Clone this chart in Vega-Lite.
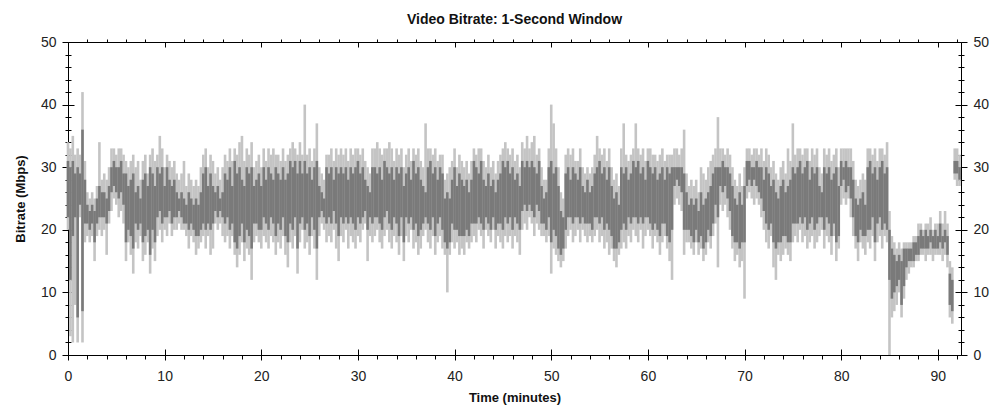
{
"$schema":"https://vega.github.io/schema/vega-lite/v6.json",
"width":893,"height":313,
"autosize":{"type":"none"},
"padding":{"left":68,"top":42,"right":43,"bottom":65},
"background":"white",
"config":{"view":{"stroke":null},"font":"Liberation Sans","axis":{"domainColor":"#000","tickColor":"#000","labelColor":"#222","labelFont":"Liberation Sans","labelFontSize":14,"titleFont":"Liberation Sans","titleFontSize":13,"titleFontWeight":"bold","titleColor":"#111","grid":false,"domainWidth":1,"tickWidth":1,"labelFlush":false,"labelOverlap":false}},
"title":{"text":"Video Bitrate: 1-Second Window","fontSize":14,"fontWeight":"bold","font":"Liberation Sans","color":"#111","anchor":"middle","offset":8},
"datasets":{
"d":[
{"t":0,"n":20,"l":22,"h":31,"m":34},{"t":0.25,"n":3,"l":12,"h":30,"m":33},{"t":0.5,"n":2,"l":19,"h":31,"m":35},{"t":0.75,"n":8,"l":22,"h":29,"m":32},
{"t":1,"n":2,"l":6,"h":30,"m":33},{"t":1.25,"n":22,"l":24,"h":29,"m":32},{"t":1.5,"n":2,"l":7,"h":36,"m":42},{"t":1.75,"n":18,"l":21,"h":28,"m":31},
{"t":2,"n":19,"l":21,"h":24,"m":26},{"t":2.25,"n":18,"l":20,"h":23,"m":25},{"t":2.5,"n":19,"l":21,"h":24,"m":26},{"t":2.75,"n":15,"l":18,"h":23,"m":25},
{"t":3,"n":19,"l":21,"h":25,"m":27},{"t":3.25,"n":20,"l":22,"h":27,"m":34},{"t":3.5,"n":19,"l":22,"h":26,"m":28},{"t":3.75,"n":20,"l":22,"h":26,"m":29},
{"t":4,"n":16,"l":21,"h":25,"m":28},{"t":4.25,"n":21,"l":23,"h":27,"m":30},{"t":4.5,"n":23,"l":26,"h":30,"m":33},{"t":4.75,"n":25,"l":27,"h":31,"m":33},
{"t":5,"n":24,"l":26,"h":30,"m":32},{"t":5.25,"n":22,"l":25,"h":30,"m":33},{"t":5.5,"n":23,"l":26,"h":31,"m":33},{"t":5.75,"n":21,"l":24,"h":29,"m":32},
{"t":6,"n":15,"l":18,"h":29,"m":31},{"t":6.25,"n":18,"l":20,"h":27,"m":30},{"t":6.5,"n":16,"l":19,"h":28,"m":31},{"t":6.75,"n":13,"l":17,"h":29,"m":32},
{"t":7,"n":18,"l":21,"h":26,"m":30},{"t":7.25,"n":17,"l":20,"h":27,"m":31},{"t":7.5,"n":19,"l":21,"h":25,"m":28},{"t":7.75,"n":15,"l":18,"h":28,"m":31},
{"t":8,"n":16,"l":19,"h":29,"m":32},{"t":8.25,"n":18,"l":20,"h":27,"m":29},{"t":8.5,"n":13,"l":16,"h":30,"m":32},{"t":8.75,"n":17,"l":20,"h":29,"m":33},
{"t":9,"n":15,"l":18,"h":27,"m":31},{"t":9.25,"n":19,"l":22,"h":30,"m":32},{"t":9.5,"n":20,"l":23,"h":29,"m":35},{"t":9.75,"n":18,"l":21,"h":30,"m":33},
{"t":10,"n":20,"l":22,"h":27,"m":30},{"t":10.25,"n":19,"l":22,"h":30,"m":32},{"t":10.5,"n":21,"l":23,"h":28,"m":31},{"t":10.75,"n":19,"l":21,"h":27,"m":30},
{"t":11,"n":20,"l":22,"h":28,"m":31},{"t":11.25,"n":20,"l":22,"h":26,"m":29},{"t":11.5,"n":21,"l":23,"h":25,"m":28},{"t":11.75,"n":20,"l":22,"h":26,"m":29},
{"t":12,"n":20,"l":21,"h":25,"m":31},{"t":12.25,"n":19,"l":21,"h":24,"m":27},{"t":12.5,"n":17,"l":20,"h":26,"m":29},{"t":12.75,"n":19,"l":21,"h":25,"m":28},
{"t":13,"n":18,"l":20,"h":24,"m":27},{"t":13.25,"n":16,"l":19,"h":25,"m":28},{"t":13.5,"n":17,"l":19,"h":24,"m":27},{"t":13.75,"n":18,"l":20,"h":26,"m":30},
{"t":14,"n":19,"l":21,"h":29,"m":32},{"t":14.25,"n":17,"l":20,"h":30,"m":33},{"t":14.5,"n":19,"l":21,"h":27,"m":30},{"t":14.75,"n":16,"l":20,"h":29,"m":32},
{"t":15,"n":17,"l":21,"h":27,"m":31},{"t":15.25,"n":21,"l":23,"h":26,"m":29},{"t":15.5,"n":20,"l":22,"h":27,"m":30},{"t":15.75,"n":21,"l":23,"h":25,"m":28},
{"t":16,"n":19,"l":22,"h":26,"m":30},{"t":16.25,"n":18,"l":21,"h":29,"m":32},{"t":16.5,"n":19,"l":22,"h":28,"m":31},{"t":16.75,"n":17,"l":20,"h":30,"m":33},
{"t":17,"n":19,"l":21,"h":27,"m":31},{"t":17.25,"n":16,"l":18,"h":31,"m":33},{"t":17.5,"n":14,"l":17,"h":29,"m":32},{"t":17.75,"n":16,"l":19,"h":30,"m":34},
{"t":18,"n":18,"l":21,"h":28,"m":35},{"t":18.25,"n":15,"l":18,"h":27,"m":31},{"t":18.5,"n":17,"l":20,"h":30,"m":33},{"t":18.75,"n":16,"l":19,"h":29,"m":32},
{"t":19,"n":12,"l":17,"h":30,"m":34},{"t":19.25,"n":18,"l":21,"h":27,"m":30},{"t":19.5,"n":19,"l":21,"h":28,"m":31},{"t":19.75,"n":18,"l":20,"h":29,"m":32},
{"t":20,"n":17,"l":20,"h":27,"m":30},{"t":20.25,"n":19,"l":22,"h":30,"m":33},{"t":20.5,"n":18,"l":21,"h":28,"m":31},{"t":20.75,"n":17,"l":20,"h":30,"m":33},
{"t":21,"n":19,"l":22,"h":29,"m":32},{"t":21.25,"n":18,"l":21,"h":28,"m":33},{"t":21.5,"n":16,"l":19,"h":30,"m":32},{"t":21.75,"n":18,"l":21,"h":29,"m":32},
{"t":22,"n":17,"l":20,"h":28,"m":31},{"t":22.25,"n":19,"l":22,"h":30,"m":33},{"t":22.5,"n":16,"l":19,"h":28,"m":31},{"t":22.75,"n":14,"l":18,"h":29,"m":32},
{"t":23,"n":18,"l":21,"h":31,"m":33},{"t":23.25,"n":17,"l":20,"h":30,"m":34},{"t":23.5,"n":19,"l":22,"h":31,"m":33},{"t":23.75,"n":13,"l":17,"h":29,"m":32},
{"t":24,"n":18,"l":21,"h":31,"m":34},{"t":24.25,"n":20,"l":22,"h":29,"m":32},{"t":24.5,"n":17,"l":20,"h":31,"m":40},{"t":24.75,"n":18,"l":21,"h":29,"m":32},
{"t":25,"n":16,"l":19,"h":30,"m":33},{"t":25.25,"n":19,"l":22,"h":28,"m":31},{"t":25.5,"n":17,"l":20,"h":30,"m":33},{"t":25.75,"n":12,"l":17,"h":31,"m":37},
{"t":26,"n":19,"l":22,"h":27,"m":30},{"t":26.25,"n":21,"l":23,"h":26,"m":29},{"t":26.5,"n":20,"l":22,"h":25,"m":28},{"t":26.75,"n":18,"l":21,"h":30,"m":32},
{"t":27,"n":19,"l":22,"h":29,"m":32},{"t":27.25,"n":18,"l":21,"h":30,"m":33},{"t":27.5,"n":20,"l":23,"h":28,"m":31},{"t":27.75,"n":17,"l":21,"h":30,"m":33},
{"t":28,"n":15,"l":19,"h":29,"m":32},{"t":28.25,"n":19,"l":22,"h":30,"m":33},{"t":28.5,"n":18,"l":21,"h":29,"m":32},{"t":28.75,"n":20,"l":22,"h":30,"m":33},
{"t":29,"n":17,"l":21,"h":28,"m":31},{"t":29.25,"n":19,"l":22,"h":30,"m":33},{"t":29.5,"n":18,"l":21,"h":29,"m":32},{"t":29.75,"n":17,"l":20,"h":30,"m":33},
{"t":30,"n":19,"l":22,"h":31,"m":33},{"t":30.25,"n":18,"l":21,"h":29,"m":32},{"t":30.5,"n":20,"l":22,"h":30,"m":33},{"t":30.75,"n":21,"l":23,"h":28,"m":31},
{"t":31,"n":15,"l":20,"h":27,"m":30},{"t":31.25,"n":19,"l":22,"h":26,"m":29},{"t":31.5,"n":18,"l":21,"h":30,"m":33},{"t":31.75,"n":19,"l":22,"h":30,"m":33},
{"t":32,"n":20,"l":22,"h":29,"m":34},{"t":32.25,"n":18,"l":21,"h":30,"m":33},{"t":32.5,"n":17,"l":20,"h":28,"m":32},{"t":32.75,"n":19,"l":22,"h":31,"m":33},
{"t":33,"n":20,"l":23,"h":30,"m":33},{"t":33.25,"n":18,"l":21,"h":29,"m":34},{"t":33.5,"n":17,"l":20,"h":30,"m":33},{"t":33.75,"n":19,"l":22,"h":28,"m":31},
{"t":34,"n":18,"l":21,"h":30,"m":33},{"t":34.25,"n":16,"l":19,"h":29,"m":32},{"t":34.5,"n":19,"l":22,"h":30,"m":33},{"t":34.75,"n":15,"l":18,"h":27,"m":30},
{"t":35,"n":19,"l":22,"h":29,"m":32},{"t":35.25,"n":18,"l":21,"h":30,"m":33},{"t":35.5,"n":20,"l":22,"h":28,"m":31},{"t":35.75,"n":17,"l":20,"h":31,"m":33},
{"t":36,"n":18,"l":21,"h":29,"m":32},{"t":36.25,"n":16,"l":19,"h":30,"m":33},{"t":36.5,"n":17,"l":20,"h":28,"m":31},{"t":36.75,"n":19,"l":21,"h":27,"m":30},
{"t":37,"n":20,"l":22,"h":26,"m":37},{"t":37.25,"n":18,"l":21,"h":30,"m":33},{"t":37.5,"n":17,"l":20,"h":31,"m":33},{"t":37.75,"n":19,"l":22,"h":29,"m":32},
{"t":38,"n":16,"l":19,"h":30,"m":33},{"t":38.25,"n":18,"l":21,"h":28,"m":31},{"t":38.5,"n":19,"l":22,"h":30,"m":32},{"t":38.75,"n":17,"l":20,"h":29,"m":32},
{"t":39,"n":16,"l":18,"h":25,"m":28},{"t":39.25,"n":10,"l":17,"h":26,"m":29},{"t":39.5,"n":16,"l":18,"h":25,"m":30},{"t":39.75,"n":18,"l":21,"h":28,"m":31},
{"t":40,"n":17,"l":20,"h":30,"m":33},{"t":40.25,"n":18,"l":20,"h":27,"m":30},{"t":40.5,"n":16,"l":19,"h":29,"m":32},{"t":40.75,"n":17,"l":19,"h":28,"m":31},
{"t":41,"n":16,"l":19,"h":27,"m":30},{"t":41.25,"n":18,"l":20,"h":28,"m":31},{"t":41.5,"n":17,"l":19,"h":26,"m":29},{"t":41.75,"n":18,"l":21,"h":28,"m":31},
{"t":42,"n":19,"l":21,"h":31,"m":33},{"t":42.25,"n":18,"l":21,"h":30,"m":32},{"t":42.5,"n":20,"l":22,"h":29,"m":33},{"t":42.75,"n":19,"l":21,"h":31,"m":33},
{"t":43,"n":17,"l":20,"h":28,"m":31},{"t":43.25,"n":20,"l":22,"h":27,"m":30},{"t":43.5,"n":19,"l":21,"h":29,"m":32},{"t":43.75,"n":18,"l":20,"h":27,"m":30},
{"t":44,"n":20,"l":22,"h":28,"m":31},{"t":44.25,"n":17,"l":20,"h":26,"m":29},{"t":44.5,"n":19,"l":21,"h":28,"m":31},{"t":44.75,"n":18,"l":21,"h":29,"m":32},
{"t":45,"n":17,"l":20,"h":31,"m":33},{"t":45.25,"n":19,"l":22,"h":30,"m":34},{"t":45.5,"n":18,"l":21,"h":31,"m":33},{"t":45.75,"n":19,"l":22,"h":29,"m":32},
{"t":46,"n":17,"l":20,"h":30,"m":33},{"t":46.25,"n":19,"l":22,"h":28,"m":31},{"t":46.5,"n":18,"l":21,"h":29,"m":32},{"t":46.75,"n":16,"l":20,"h":27,"m":30},
{"t":47,"n":20,"l":23,"h":31,"m":34},{"t":47.25,"n":21,"l":24,"h":30,"m":33},{"t":47.5,"n":20,"l":23,"h":31,"m":35},{"t":47.75,"n":22,"l":24,"h":30,"m":33},
{"t":48,"n":21,"l":23,"h":31,"m":34},{"t":48.25,"n":19,"l":22,"h":30,"m":35},{"t":48.5,"n":21,"l":24,"h":29,"m":32},{"t":48.75,"n":20,"l":23,"h":31,"m":33},
{"t":49,"n":19,"l":21,"h":27,"m":30},{"t":49.25,"n":19,"l":21,"h":25,"m":28},{"t":49.5,"n":18,"l":20,"h":26,"m":28},{"t":49.75,"n":19,"l":22,"h":30,"m":33},
{"t":50,"n":13,"l":18,"h":31,"m":40},{"t":50.25,"n":17,"l":20,"h":29,"m":37},{"t":50.5,"n":16,"l":19,"h":30,"m":33},{"t":50.75,"n":15,"l":17,"h":27,"m":30},
{"t":51,"n":14,"l":16,"h":23,"m":26},{"t":51.25,"n":15,"l":17,"h":22,"m":25},{"t":51.5,"n":17,"l":20,"h":29,"m":32},{"t":51.75,"n":19,"l":22,"h":30,"m":33},
{"t":52,"n":20,"l":22,"h":28,"m":32},{"t":52.25,"n":18,"l":21,"h":30,"m":33},{"t":52.5,"n":19,"l":22,"h":29,"m":31},{"t":52.75,"n":20,"l":22,"h":28,"m":31},
{"t":53,"n":18,"l":21,"h":30,"m":33},{"t":53.25,"n":20,"l":22,"h":27,"m":30},{"t":53.5,"n":19,"l":21,"h":26,"m":29},{"t":53.75,"n":18,"l":21,"h":28,"m":30},
{"t":54,"n":19,"l":21,"h":26,"m":29},{"t":54.25,"n":18,"l":20,"h":27,"m":30},{"t":54.5,"n":19,"l":22,"h":29,"m":32},{"t":54.75,"n":20,"l":22,"h":30,"m":35},
{"t":55,"n":18,"l":21,"h":31,"m":33},{"t":55.25,"n":19,"l":22,"h":29,"m":32},{"t":55.5,"n":17,"l":20,"h":30,"m":33},{"t":55.75,"n":18,"l":21,"h":28,"m":31},
{"t":56,"n":16,"l":20,"h":30,"m":33},{"t":56.25,"n":17,"l":19,"h":27,"m":30},{"t":56.5,"n":15,"l":17,"h":25,"m":28},{"t":56.75,"n":14,"l":17,"h":26,"m":29},
{"t":57,"n":16,"l":18,"h":24,"m":27},{"t":57.25,"n":17,"l":20,"h":30,"m":33},{"t":57.5,"n":18,"l":21,"h":29,"m":37},{"t":57.75,"n":17,"l":20,"h":30,"m":32},
{"t":58,"n":19,"l":22,"h":28,"m":31},{"t":58.25,"n":18,"l":21,"h":29,"m":32},{"t":58.5,"n":20,"l":22,"h":31,"m":33},{"t":58.75,"n":19,"l":22,"h":30,"m":37},
{"t":59,"n":18,"l":21,"h":31,"m":33},{"t":59.25,"n":20,"l":22,"h":29,"m":32},{"t":59.5,"n":17,"l":21,"h":30,"m":33},{"t":59.75,"n":19,"l":22,"h":28,"m":31},
{"t":60,"n":20,"l":22,"h":31,"m":33},{"t":60.25,"n":19,"l":21,"h":30,"m":33},{"t":60.5,"n":17,"l":20,"h":29,"m":32},{"t":60.75,"n":19,"l":21,"h":30,"m":32},
{"t":61,"n":18,"l":20,"h":28,"m":31},{"t":61.25,"n":16,"l":19,"h":29,"m":32},{"t":61.5,"n":18,"l":21,"h":30,"m":33},{"t":61.75,"n":19,"l":21,"h":28,"m":31},
{"t":62,"n":17,"l":19,"h":30,"m":32},{"t":62.25,"n":15,"l":18,"h":29,"m":32},{"t":62.5,"n":12,"l":20,"h":30,"m":32},{"t":62.75,"n":24,"l":27,"h":30,"m":33},
{"t":63,"n":25,"l":28,"h":30,"m":33},{"t":63.25,"n":24,"l":27,"h":30,"m":32},{"t":63.5,"n":23,"l":26,"h":30,"m":33},{"t":63.75,"n":16,"l":20,"h":29,"m":36},
{"t":64,"n":18,"l":20,"h":26,"m":29},{"t":64.25,"n":18,"l":20,"h":24,"m":27},{"t":64.5,"n":17,"l":19,"h":25,"m":28},{"t":64.75,"n":16,"l":18,"h":24,"m":27},
{"t":65,"n":18,"l":20,"h":25,"m":28},{"t":65.25,"n":16,"l":18,"h":23,"m":26},{"t":65.5,"n":17,"l":19,"h":26,"m":30},{"t":65.75,"n":15,"l":17,"h":24,"m":29},
{"t":66,"n":16,"l":18,"h":25,"m":28},{"t":66.25,"n":18,"l":20,"h":26,"m":30},{"t":66.5,"n":17,"l":19,"h":27,"m":31},{"t":66.75,"n":19,"l":21,"h":29,"m":32},
{"t":67,"n":21,"l":24,"h":30,"m":33},{"t":67.25,"n":14,"l":22,"h":30,"m":38},{"t":67.5,"n":24,"l":27,"h":30,"m":33},{"t":67.75,"n":23,"l":26,"h":31,"m":33},
{"t":68,"n":24,"l":27,"h":30,"m":32},{"t":68.25,"n":22,"l":25,"h":30,"m":33},{"t":68.5,"n":20,"l":23,"h":29,"m":32},{"t":68.75,"n":17,"l":19,"h":27,"m":30},
{"t":69,"n":15,"l":18,"h":25,"m":28},{"t":69.25,"n":16,"l":18,"h":24,"m":27},{"t":69.5,"n":14,"l":17,"h":26,"m":29},{"t":69.75,"n":15,"l":18,"h":24,"m":27},
{"t":70,"n":9,"l":18,"h":27,"m":30},{"t":70.25,"n":25,"l":27,"h":31,"m":33},{"t":70.5,"n":26,"l":28,"h":31,"m":33},{"t":70.75,"n":25,"l":27,"h":30,"m":32},
{"t":71,"n":24,"l":28,"h":30,"m":33},{"t":71.25,"n":25,"l":27,"h":31,"m":33},{"t":71.5,"n":24,"l":26,"h":30,"m":32},{"t":71.75,"n":22,"l":25,"h":30,"m":33},
{"t":72,"n":20,"l":23,"h":28,"m":31},{"t":72.25,"n":18,"l":21,"h":30,"m":33},{"t":72.5,"n":17,"l":20,"h":29,"m":32},{"t":72.75,"n":19,"l":21,"h":27,"m":30},
{"t":73,"n":14,"l":18,"h":28,"m":31},{"t":73.25,"n":12,"l":17,"h":26,"m":29},{"t":73.5,"n":16,"l":18,"h":25,"m":28},{"t":73.75,"n":15,"l":18,"h":27,"m":30},
{"t":74,"n":16,"l":19,"h":28,"m":31},{"t":74.25,"n":17,"l":19,"h":26,"m":29},{"t":74.5,"n":16,"l":18,"h":27,"m":33},{"t":74.75,"n":15,"l":18,"h":28,"m":31},
{"t":75,"n":18,"l":21,"h":30,"m":37},{"t":75.25,"n":19,"l":21,"h":29,"m":32},{"t":75.5,"n":18,"l":21,"h":30,"m":33},{"t":75.75,"n":20,"l":22,"h":31,"m":33},
{"t":76,"n":18,"l":21,"h":29,"m":32},{"t":76.25,"n":19,"l":22,"h":30,"m":33},{"t":76.5,"n":17,"l":20,"h":31,"m":33},{"t":76.75,"n":18,"l":21,"h":28,"m":31},
{"t":77,"n":19,"l":22,"h":30,"m":33},{"t":77.25,"n":17,"l":20,"h":29,"m":32},{"t":77.5,"n":18,"l":21,"h":30,"m":33},{"t":77.75,"n":19,"l":22,"h":27,"m":30},
{"t":78,"n":20,"l":22,"h":26,"m":29},{"t":78.25,"n":17,"l":20,"h":30,"m":33},{"t":78.5,"n":19,"l":22,"h":29,"m":32},{"t":78.75,"n":18,"l":21,"h":30,"m":33},
{"t":79,"n":16,"l":19,"h":28,"m":31},{"t":79.25,"n":19,"l":21,"h":29,"m":32},{"t":79.5,"n":15,"l":18,"h":30,"m":33},{"t":79.75,"n":17,"l":19,"h":27,"m":30},
{"t":80,"n":24,"l":27,"h":31,"m":33},{"t":80.25,"n":25,"l":28,"h":30,"m":33},{"t":80.5,"n":24,"l":26,"h":31,"m":33},{"t":80.75,"n":25,"l":27,"h":30,"m":33},
{"t":81,"n":22,"l":25,"h":30,"m":33},{"t":81.25,"n":19,"l":22,"h":28,"m":31},{"t":81.5,"n":17,"l":19,"h":25,"m":28},{"t":81.75,"n":15,"l":18,"h":24,"m":27},
{"t":82,"n":18,"l":20,"h":25,"m":28},{"t":82.25,"n":17,"l":19,"h":26,"m":29},{"t":82.5,"n":16,"l":19,"h":24,"m":28},{"t":82.75,"n":18,"l":20,"h":30,"m":33},
{"t":83,"n":17,"l":20,"h":31,"m":33},{"t":83.25,"n":19,"l":22,"h":29,"m":32},{"t":83.5,"n":15,"l":18,"h":30,"m":33},{"t":83.75,"n":18,"l":21,"h":28,"m":31},
{"t":84,"n":19,"l":22,"h":30,"m":33},{"t":84.25,"n":17,"l":20,"h":31,"m":33},{"t":84.5,"n":19,"l":21,"h":29,"m":32},{"t":84.75,"n":18,"l":20,"h":30,"m":34},
{"t":85,"n":0,"l":12,"h":20,"m":23},{"t":85.25,"n":6,"l":9,"h":17,"m":19},{"t":85.5,"n":7,"l":10,"h":16,"m":18},{"t":85.75,"n":8,"l":11,"h":15,"m":17},
{"t":86,"n":10,"l":12,"h":16,"m":18},{"t":86.25,"n":6,"l":8,"h":15,"m":17},{"t":86.5,"n":9,"l":11,"h":17,"m":18},{"t":86.75,"n":12,"l":14,"h":17,"m":18},
{"t":87,"n":13,"l":15,"h":17,"m":18},{"t":87.25,"n":14,"l":15,"h":17,"m":18},{"t":87.5,"n":14,"l":15,"h":18,"m":19},{"t":87.75,"n":15,"l":16,"h":18,"m":19},
{"t":88,"n":15,"l":16,"h":19,"m":21},{"t":88.25,"n":16,"l":17,"h":20,"m":21},{"t":88.5,"n":16,"l":17,"h":19,"m":20},{"t":88.75,"n":15,"l":17,"h":20,"m":21},
{"t":89,"n":16,"l":17,"h":19,"m":21},{"t":89.25,"n":16,"l":18,"h":20,"m":22},{"t":89.5,"n":15,"l":17,"h":19,"m":20},{"t":89.75,"n":16,"l":17,"h":20,"m":21},
{"t":90,"n":16,"l":17,"h":19,"m":21},{"t":90.25,"n":16,"l":18,"h":21,"m":23},{"t":90.5,"n":15,"l":17,"h":19,"m":21},{"t":90.75,"n":16,"l":18,"h":20,"m":23},
{"t":91,"n":14,"l":16,"h":19,"m":21},{"t":91.25,"n":6,"l":8,"h":13,"m":15},{"t":91.5,"n":5,"l":7,"h":12,"m":14},{"t":91.75,"n":28,"l":29,"h":31,"m":33},
{"t":92,"n":27,"l":29,"h":31,"m":33},{"t":92.25,"n":27,"l":28,"h":30,"m":32}
],
"z":[{"t":0,"n":0}]
},
"layer":[
{"data":{"name":"d"},"mark":{"type":"rule","color":"#c4c4c4","strokeWidth":2.6},
 "encoding":{
  "x":{"field":"t","type":"quantitative","scale":{"domain":[0,92.4],"nice":false,"zero":false},"axis":{"orient":"bottom","title":"Time (minutes)","values":[0,10,20,30,40,50,60,70,80,90],"tickSize":5,"labelPadding":9,"titlePadding":8}},
  "y":{"field":"n","type":"quantitative","scale":{"domain":[0,50],"nice":false},"axis":{"orient":"left","title":"Bitrate (Mbps)","values":[0,10,20,30,40,50],"tickSize":6,"labelPadding":6,"titlePadding":13}},
  "y2":{"field":"m"}}},
{"data":{"name":"d"},"mark":{"type":"rule","color":"#7a7a7a","strokeWidth":2.6},
 "encoding":{
  "x":{"field":"t","type":"quantitative","scale":{"domain":[0,92.4],"nice":false,"zero":false},"axis":{"orient":"top","title":null,"labels":false,"values":[0,10,20,30,40,50,60,70,80,90],"tickSize":-5}},
  "y":{"field":"l","type":"quantitative","scale":{"domain":[0,50],"nice":false},"axis":{"orient":"right","title":null,"values":[0,10,20,30,40,50],"tickSize":6,"labelPadding":6}},
  "y2":{"field":"h"}}},
{"data":{"name":"z"},"mark":{"type":"point","opacity":0},
 "encoding":{
  "x":{"field":"t","type":"quantitative","scale":{"domain":[0,92.4],"nice":false,"zero":false},"axis":{"orient":"bottom","title":null,"labels":false,"domain":false,"values":[0,10,20,30,40,50,60,70,80,90],"tickSize":-6}},
  "y":{"field":"n","type":"quantitative","scale":{"domain":[0,50],"nice":false},"axis":{"orient":"left","title":null,"labels":false,"domain":false,"values":[0,10,20,30,40,50],"tickSize":-6}}}},
{"data":{"name":"z"},"mark":{"type":"point","opacity":0},
 "encoding":{
  "x":{"field":"t","type":"quantitative","scale":{"domain":[0,92.4],"nice":false,"zero":false},"axis":{"orient":"bottom","title":null,"labels":false,"domain":false,"values":[2,4,6,8,12,14,16,18,22,24,26,28,32,34,36,38,42,44,46,48,52,54,56,58,62,64,66,68,72,74,76,78,82,84,86,88,92],"tickSize":4}},
  "y":{"field":"n","type":"quantitative","scale":{"domain":[0,50],"nice":false},"axis":{"orient":"right","title":null,"labels":false,"domain":false,"values":[0,10,20,30,40,50],"tickSize":-6}}}},
{"data":{"name":"z"},"mark":{"type":"point","opacity":0},
 "encoding":{
  "x":{"field":"t","type":"quantitative","scale":{"domain":[0,92.4],"nice":false,"zero":false},"axis":{"orient":"top","title":null,"labels":false,"domain":false,"values":[2,4,6,8,12,14,16,18,22,24,26,28,32,34,36,38,42,44,46,48,52,54,56,58,62,64,66,68,72,74,76,78,82,84,86,88,92],"tickSize":3}},
  "y":{"field":"n","type":"quantitative","scale":{"domain":[0,50],"nice":false},"axis":{"orient":"left","title":null,"labels":false,"domain":false,"values":[2,4,6,8,12,14,16,18,22,24,26,28,32,34,36,38,42,44,46,48],"tickSize":3}}}},
{"data":{"name":"z"},"mark":{"type":"point","opacity":0},
 "encoding":{
  "y":{"field":"n","type":"quantitative","scale":{"domain":[0,50],"nice":false},"axis":{"orient":"left","title":null,"labels":false,"domain":false,"values":[2,4,6,8,12,14,16,18,22,24,26,28,32,34,36,38,42,44,46,48],"tickSize":-3}}}},
{"data":{"name":"z"},"mark":{"type":"point","opacity":0},
 "encoding":{
  "y":{"field":"n","type":"quantitative","scale":{"domain":[0,50],"nice":false},"axis":{"orient":"right","title":null,"labels":false,"domain":false,"values":[2,4,6,8,12,14,16,18,22,24,26,28,32,34,36,38,42,44,46,48],"tickSize":3}}}},
{"data":{"name":"z"},"mark":{"type":"point","opacity":0},
 "encoding":{
  "y":{"field":"n","type":"quantitative","scale":{"domain":[0,50],"nice":false},"axis":{"orient":"right","title":null,"labels":false,"domain":false,"values":[2,4,6,8,12,14,16,18,22,24,26,28,32,34,36,38,42,44,46,48],"tickSize":-3}}}}
],
"resolve":{"axis":{"x":"independent","y":"independent"}}
}
